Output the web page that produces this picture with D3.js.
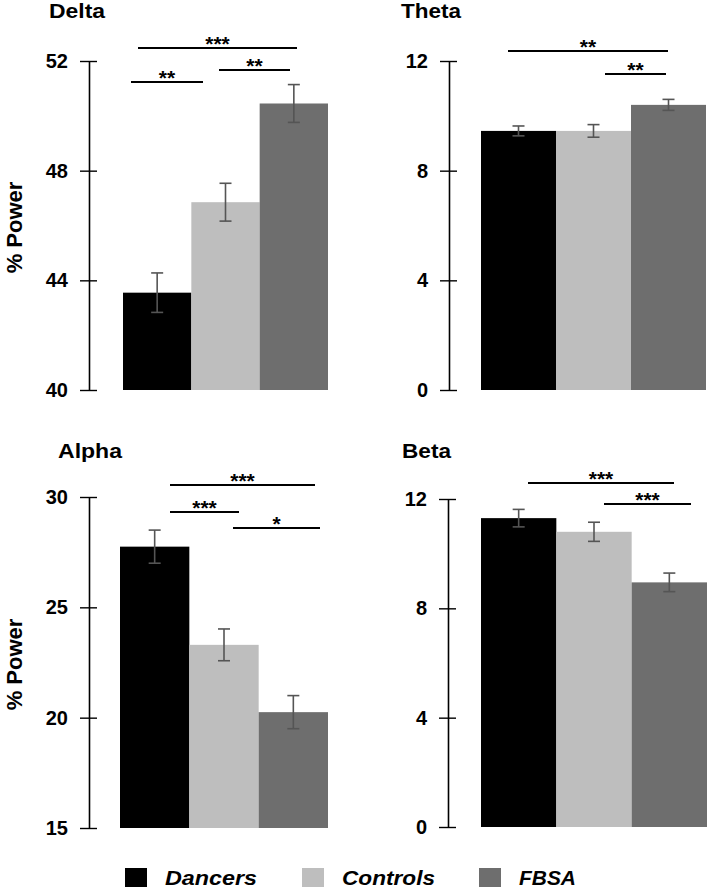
<!DOCTYPE html>
<html><head><meta charset="utf-8">
<script src="https://cdn.jsdelivr.net/npm/d3@7"></script>
<style>body{margin:0;background:#fff}svg{display:block}</style>
</head><body>
<svg id="c" width="708" height="890"></svg>
<script>
const groups = ["Dancers","Controls","FBSA"];
const colors = ["#000000","#bebebe","#6e6e6e"];
const bands = ["Delta","Theta","Alpha","Beta"];
const deltaMean = [43.55, 46.85, 50.45];
const deltaErr = [0.72, 0.69, 0.69];
const thetaMean = [9.45, 9.45, 10.4];
const thetaErr = [0.18, 0.23, 0.2];
const alphaMean = [27.75, 23.3, 20.25];
const alphaErr = [0.75, 0.72, 0.75];
const betaMean = [11.3, 10.8, 8.95];
const betaErr = [0.32, 0.35, 0.34];
const deltaTicks = [40,44,48,52];
const thetaTicks = [0,4,8,12];
const alphaTicks = [15,20,25,30];
const betaTicks = [0,4,8,12];
// significance comparisons: [from group, to group, label]
const deltaSig = [["Dancers","FBSA","***"],["Dancers","Controls","**"],["Controls","FBSA","**"]];
const thetaSig = [["Dancers","FBSA","**"],["Controls","FBSA","**"]];
const alphaSig = [["Dancers","FBSA","***"],["Dancers","Controls","***"],["Controls","FBSA","*"]];
const betaSig = [["Dancers","FBSA","***"],["Controls","FBSA","***"]];

// layout (positions only)
const panels = [
  {title:"Delta", mean:deltaMean, err:deltaErr, ticks:deltaTicks, sig:deltaSig, ylab:true,
   axisX:89, y0:390, y1:61, bx:[123,328], titleX:49, titleY:18, titleW:56,
   sigPos:[{x1:138,x2:297,y:48},{x1:131,x2:203,y:82},{x1:219,x2:290,y:70}]},
  {title:"Theta", mean:thetaMean, err:thetaErr, ticks:thetaTicks, sig:thetaSig, ylab:false,
   axisX:449, y0:390, y1:61, bx:[481,706], titleX:401, titleY:18, titleW:60,
   sigPos:[{x1:508,x2:668,y:51},{x1:605,x2:666,y:74}]},
  {title:"Alpha", mean:alphaMean, err:alphaErr, ticks:alphaTicks, sig:alphaSig, ylab:true,
   axisX:89, y0:828, y1:497, bx:[120,328], titleX:58, titleY:458, titleW:64,
   sigPos:[{x1:170,x2:315,y:485},{x1:170,x2:239,y:512},{x1:233,x2:320,y:528}]},
  {title:"Beta", mean:betaMean, err:betaErr, ticks:betaTicks, sig:betaSig, ylab:false,
   axisX:448, y0:827, y1:499, bx:[481,707], titleX:402, titleY:458, titleW:49,
   sigPos:[{x1:528,x2:674,y:483},{x1:604,x2:691,y:504}]}
];

const svg = d3.select("#c");
const font = "'Liberation Sans', Arial, sans-serif";

panels.forEach(p => {
  const g = svg.append("g");
  const y = d3.scaleLinear().domain([p.ticks[0], p.ticks[p.ticks.length-1]]).range([p.y0, p.y1]);
  const x = d3.scaleBand().domain(groups).range(p.bx).paddingInner(0).paddingOuter(0);

  // bars
  g.selectAll("rect.bar").data(groups).enter().append("rect")
    .attr("x", d => x(d)).attr("width", x.bandwidth())
    .attr("y", (d,i) => y(p.mean[i])).attr("height", (d,i) => y(p.ticks[0]) - y(p.mean[i]))
    .attr("fill", (d,i) => colors[i]);

  // error bars
  const eg = g.selectAll("g.err").data(groups).enter().append("g")
    .attr("stroke", "#555555").attr("stroke-width", 1.6).attr("fill","none");
  eg.append("line")
    .attr("x1", d => x(d)+x.bandwidth()/2).attr("x2", d => x(d)+x.bandwidth()/2)
    .attr("y1", (d,i) => y(p.mean[i]+p.err[i])).attr("y2", (d,i) => y(p.mean[i]-p.err[i]));
  [1,-1].forEach(s => {
    eg.append("line")
      .attr("x1", d => x(d)+x.bandwidth()/2-6).attr("x2", d => x(d)+x.bandwidth()/2+6)
      .attr("y1", (d,i) => y(p.mean[i]+s*p.err[i])).attr("y2", (d,i) => y(p.mean[i]+s*p.err[i]));
  });

  // axis
  const ax = g.append("g").attr("transform", `translate(${p.axisX},0)`)
    .call(d3.axisLeft(y).tickValues(p.ticks).tickSize(9).tickPadding(12).tickSizeOuter(0));
  ax.select(".domain").attr("stroke","#000").attr("stroke-width",1.6);
  ax.selectAll(".tick line").attr("x1", 8).attr("stroke","#000").attr("stroke-width",1.4);
  ax.selectAll(".tick text").attr("font-family", font).attr("font-weight","bold")
    .attr("font-size", 20).attr("fill","#000");

  // title
  g.append("text").attr("x", p.titleX).attr("y", p.titleY)
    .attr("font-family", font).attr("font-weight","bold").attr("font-size", 20)
    .attr("textLength", p.titleW).attr("lengthAdjust","spacingAndGlyphs")
    .text(p.title);

  // significance
  p.sig.forEach((s, i) => {
    const pos = p.sigPos[i];
    g.append("line").attr("x1", pos.x1).attr("x2", pos.x2).attr("y1", pos.y).attr("y2", pos.y)
      .attr("stroke","#000").attr("stroke-width",2);
    g.append("text").attr("x", (pos.x1+pos.x2)/2).attr("y", pos.y + 3)
      .attr("text-anchor","middle").attr("font-family", font).attr("font-weight","bold")
      .attr("font-size", 21).text(s[2]);
  });

  if (p.ylab) {
    const cy = (p.y0 + p.y1)/2 + 2;
    g.append("text").attr("transform", `translate(22,${cy}) rotate(-90)`)
      .attr("text-anchor","middle").attr("font-family", font).attr("font-weight","bold")
      .attr("font-size", 22).text("% Power");
  }
});

// legend
const legX = [125, 302, 479];
const legW = [92, 93, 57];
const lg = svg.append("g");
groups.forEach((gname, i) => {
  lg.append("rect").attr("x", legX[i]).attr("y", 868).attr("width", 22).attr("height", 19)
    .attr("fill", colors[i]);
  lg.append("text").attr("x", legX[i] + 40).attr("y", 885)
    .attr("font-family", font).attr("font-weight","bold").attr("font-style","italic")
    .attr("font-size", 21).attr("textLength", legW[i]).attr("lengthAdjust","spacingAndGlyphs")
    .text(gname);
});
</script>
</body></html>
